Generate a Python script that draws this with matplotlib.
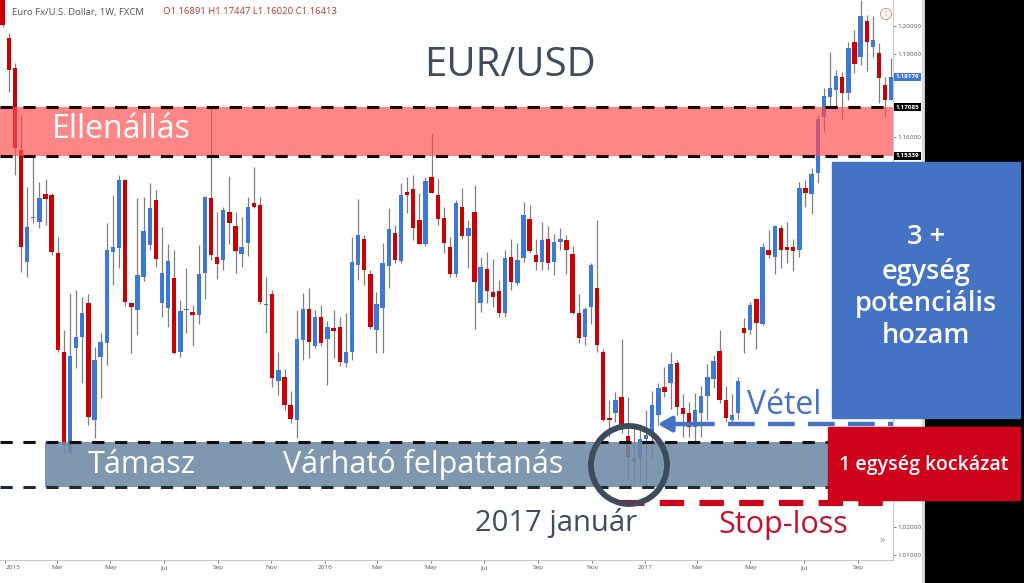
import matplotlib
matplotlib.use("Agg")
import matplotlib.pyplot as plt
import matplotlib.dates as mdates
from matplotlib.patches import Rectangle, Ellipse
import pandas as pd
import numpy as np

plt.rcParams['font.family'] = ['Open Sans', 'DejaVu Sans']

# Heti EUR/USD gyertyák (2014-12-29 -tól)
opens = [1.2195, 1.1957, 1.1849, 1.1555, 1.1152, 1.1310, 1.1296, 1.1397, 1.1393, 1.1185,
         1.0829, 1.0470, 1.0843, 1.0883, 1.1005, 1.0585, 1.0811, 1.0861, 1.1188, 1.1203,
         1.1447, 1.1005, 1.0980, 1.1098, 1.1213, 1.1375, 1.1005, 1.0987, 1.1095, 1.0829,
         1.0978, 1.0973, 1.0962, 1.1113, 1.1382, 1.1170, 1.1159, 1.1332, 1.1282, 1.1181,
         1.1221, 1.1364, 1.1357, 1.0999, 1.1037, 1.0725, 1.0739, 1.0639, 1.0585, 1.0872,
         1.0983, 1.0851, 1.0955, 1.0876, 1.0915, 1.0919, 1.0790, 1.0829, 1.1142, 1.1235,
         1.1109, 1.0908, 1.0987, 1.1138, 1.1256, 1.1156, 1.1404, 1.1415, 1.1303, 1.1217,
         1.1458, 1.1393, 1.1310, 1.1206, 1.1109, 1.1350, 1.1246, 1.1332, 1.1005, 1.1127,
         1.1045, 1.1048, 1.0969, 1.1170, 1.1077, 1.1167, 1.1307, 1.1177, 1.1152, 1.1235,
         1.1152, 1.1224, 1.1231, 1.1181, 1.0969, 1.0883, 1.0991, 1.1059, 1.0829, 1.0592,
         1.0610, 1.0667, 1.0527, 1.0434, 1.0448, 1.0517, 1.0538, 1.0603, 1.0703, 1.0718,
         1.0790, 1.0628, 1.0610, 1.0560, 1.0610, 1.0671, 1.0732, 1.0833, 1.0657, 1.0585,
         1.0610, 1.0915, 1.0908, 1.1019, 1.0930, 1.1195, 1.1170, 1.1274, 1.1206, 1.1206,
         1.1195, 1.1418, 1.1397, 1.1472, 1.1673, 1.1745, 1.1770, 1.1817, 1.1759, 1.1943,
         1.1889, 1.2018, 1.1925, 1.1903, 1.1788, 1.1734]
highs = [1.2220, 1.1975, 1.1867, 1.1680, 1.1422, 1.1530, 1.1440, 1.1450, 1.1400, 1.1242,
         1.0908, 1.1041, 1.1052, 1.1027, 1.1037, 1.0847, 1.0897, 1.1292, 1.1393, 1.1465,
         1.1450, 1.1010, 1.1382, 1.1386, 1.1436, 1.1411, 1.1278, 1.1217, 1.1195, 1.1016,
         1.1131, 1.0998, 1.1213, 1.1390, 1.1712, 1.1332, 1.1350, 1.1461, 1.1332, 1.1314,
         1.1386, 1.1494, 1.1386, 1.1098, 1.1050, 1.0829, 1.0768, 1.0689, 1.0980, 1.1041,
         1.1059, 1.0980, 1.0998, 1.0940, 1.0980, 1.0955, 1.0969, 1.1242, 1.1379, 1.1249,
         1.1124, 1.1045, 1.1221, 1.1346, 1.1285, 1.1436, 1.1458, 1.1465, 1.1400, 1.1458,
         1.1616, 1.1451, 1.1350, 1.1242, 1.1375, 1.1418, 1.1303, 1.1429, 1.1170, 1.1188,
         1.1163, 1.1088, 1.1195, 1.1235, 1.1221, 1.1368, 1.1357, 1.1235, 1.1296, 1.1282,
         1.1253, 1.1274, 1.1249, 1.1210, 1.1037, 1.0990, 1.1149, 1.1303, 1.0840, 1.0657,
         1.0686, 1.0876, 1.0667, 1.0560, 1.0560, 1.0620, 1.0690, 1.0718, 1.0775, 1.0829,
         1.0800, 1.0678, 1.0650, 1.0680, 1.0705, 1.0786, 1.0818, 1.0908, 1.0707, 1.0678,
         1.0739, 1.0951, 1.1010, 1.1023, 1.1220, 1.1267, 1.1285, 1.1285, 1.1296, 1.1235,
         1.1440, 1.1447, 1.1490, 1.1680, 1.1777, 1.1907, 1.1842, 1.1835, 1.1943, 1.1986,
         1.2093, 1.2040, 1.2036, 1.1939, 1.1817, 1.1885]
lows = [1.1995, 1.1763, 1.1465, 1.1116, 1.1098, 1.1292, 1.1274, 1.1285, 1.1177, 1.0830,
        1.0466, 1.0462, 1.0772, 1.0718, 1.0567, 1.0520, 1.0664, 1.0782, 1.1070, 1.1131,
        1.0995, 1.0825, 1.0890, 1.1085, 1.1195, 1.1134, 1.0955, 1.0919, 1.0820, 1.0811,
        1.0897, 1.0851, 1.0930, 1.1019, 1.1159, 1.1091, 1.1124, 1.1217, 1.1113, 1.1134,
        1.1174, 1.1345, 1.1001, 1.0897, 1.0703, 1.0675, 1.0621, 1.0574, 1.0520, 1.0800,
        1.0807, 1.0845, 1.0850, 1.0710, 1.0807, 1.0779, 1.0775, 1.0800, 1.1088, 1.1070,
        1.0912, 1.0825, 1.0825, 1.1059, 1.1149, 1.1150, 1.1328, 1.1231, 1.1217, 1.1210,
        1.1400, 1.1285, 1.1185, 1.1098, 1.1098, 1.1235, 1.1131, 1.0912, 1.0973, 1.1005,
        1.0991, 1.0955, 1.0955, 1.1052, 1.1070, 1.1152, 1.1185, 1.1124, 1.1124, 1.1124,
        1.1106, 1.1195, 1.1109, 1.0965, 1.0861, 1.0854, 1.0930, 1.0829, 1.0581, 1.0524,
        1.0578, 1.0538, 1.0369, 1.0352, 1.0360, 1.0340, 1.0450, 1.0567, 1.0667, 1.0624,
        1.0603, 1.0524, 1.0524, 1.0495, 1.0524, 1.0585, 1.0700, 1.0646, 1.0578, 1.0578,
        1.0589, 1.0825, 1.0895, 1.0840, 1.0925, 1.1165, 1.1109, 1.1131, 1.1150, 1.1120,
        1.1170, 1.1350, 1.1325, 1.1436, 1.1619, 1.1713, 1.1713, 1.1666, 1.1734, 1.1831,
        1.1860, 1.1838, 1.1889, 1.1723, 1.1673, 1.1734]
closes = [1.2005, 1.1842, 1.1562, 1.1206, 1.1278, 1.1314, 1.1382, 1.1379, 1.1188, 1.0836,
          1.0495, 1.0815, 1.0883, 1.0969, 1.0596, 1.0800, 1.0865, 1.1195, 1.1206, 1.1447,
          1.1009, 1.0991, 1.1106, 1.1264, 1.1346, 1.1163, 1.1113, 1.1156, 1.0825, 1.0976,
          1.0982, 1.0962, 1.1109, 1.1386, 1.1177, 1.1145, 1.1339, 1.1292, 1.1192, 1.1206,
          1.1350, 1.1350, 1.1009, 1.1003, 1.0736, 1.0764, 1.0639, 1.0588, 1.0876, 1.0983,
          1.0865, 1.0955, 1.0861, 1.0919, 1.0904, 1.0793, 1.0829, 1.1152, 1.1249, 1.1124,
          1.0919, 1.1001, 1.1149, 1.1271, 1.1159, 1.1393, 1.1393, 1.1274, 1.1217, 1.1443,
          1.1400, 1.1307, 1.1221, 1.1109, 1.1364, 1.1246, 1.1274, 1.1080, 1.1134, 1.1048,
          1.1027, 1.0969, 1.1167, 1.1080, 1.1159, 1.1321, 1.1192, 1.1152, 1.1231, 1.1149,
          1.1224, 1.1235, 1.1195, 1.0969, 1.0879, 1.0983, 1.1142, 1.0854, 1.0585, 1.0585,
          1.0657, 1.0552, 1.0452, 1.0448, 1.0517, 1.0531, 1.0639, 1.0700, 1.0685, 1.0786,
          1.0632, 1.0607, 1.0560, 1.0621, 1.0671, 1.0739, 1.0797, 1.0657, 1.0592, 1.0603,
          1.0725, 1.0897, 1.0998, 1.0933, 1.1206, 1.1177, 1.1282, 1.1195, 1.1195, 1.1192,
          1.1418, 1.1400, 1.1468, 1.1666, 1.1749, 1.1777, 1.1820, 1.1759, 1.1921, 1.1864,
          1.2036, 1.1943, 1.1950, 1.1813, 1.1734, 1.1818]

weeks = pd.date_range('2014-12-29', periods=len(opens), freq='7D')

# Szintek
resistance_top, resistance_bottom = 1.17085, 1.15339
support_top, support_bottom = 1.0506, 1.0344
entry_level = 1.0570
stop_level = 1.0287
last_price = 1.18176

month_ticks = pd.date_range('2015-01-01', '2017-09-01', freq='2MS')
month_labels = [d.strftime('%Y') if d.month == 1 else d.strftime('%b') for d in month_ticks]
price_ticks = [1.01, 1.02, 1.16, 1.19, 1.20]

W, H = 1024, 583
def fx(px):
    return px / W
def fy(py):
    return 1 - py / H

up_col, down_col, wick_col = '#3c78d8', '#cc0000', '#808080'
slate = '#3e4c5e'

fig = plt.figure(figsize=(W / 100, H / 100), dpi=100)
fig.patch.set_facecolor('white')
ax = fig.add_axes([0, fy(560), fx(893), 560 / H])

x = mdates.date2num(weeks)
o = np.array(opens); c = np.array(closes)
colors = np.where(c >= o, up_col, down_col)
ax.vlines(x, lows, highs, color=wick_col, lw=0.9, zorder=2)
body_low = np.minimum(o, c)
body_h = np.maximum(np.abs(c - o), 0.00035)
ax.bar(x, body_h, bottom=body_low, width=5.0, color=colors, zorder=3)

ax.set_xlim(mdates.date2num(pd.Timestamp('2014-12-26')), mdates.date2num(pd.Timestamp('2017-10-11')))
ax.set_ylim(1.00819, 1.2093)

# zónák
ax.axhspan(resistance_bottom, resistance_top, color='#ff4d4d', alpha=0.68, lw=0, zorder=4)
ax.axhspan(support_bottom, support_top, xmin=45 / 893, xmax=1, color='#6f89a5', alpha=0.88, lw=0, zorder=4)

dash_k = dict(ls=(0, (4, 3.5)), lw=2.2, zorder=5)
ax.axhline(resistance_top, color='#1a0000', **dash_k)
ax.axhline(resistance_bottom, color='#1a0000', **dash_k)
ax.axhline(support_top, color='#111111', **dash_k)
ax.axhline(support_bottom, color='#1c2a3a', **dash_k)

ax.hlines(entry_level, 688 / 893, 1, transform=ax.get_yaxis_transform(),
          color='#4472c4', lw=3.2, ls=(0, (6, 3)), zorder=6)
ax.hlines(stop_level, 620 / 893, 1, transform=ax.get_yaxis_transform(),
          color='#d0021b', lw=4.4, ls=(0, (4, 2.5)), zorder=6)
ax.annotate('', xy=(655 / 893, entry_level), xytext=(690 / 893, entry_level),
            xycoords=ax.get_yaxis_transform(), textcoords=ax.get_yaxis_transform(),
            arrowprops=dict(arrowstyle='-|>,head_width=0.45,head_length=0.8',
                            color='#4472c4', lw=3.2), zorder=6)

# tengelyek
ax.yaxis.tick_right()
ax.set_yticks(price_ticks)
ax.set_yticklabels([f'{p:.5f}' for p in price_ticks])
ax.set_xticks(mdates.date2num(month_ticks))
ax.set_xticklabels(month_labels)
ax.tick_params(axis='both', labelsize=4.6, colors='#555555', length=2, width=0.5, pad=1.5)
ax.get_xticklabels()[0].set_ha('left')
for s in ['top', 'left']:
    ax.spines[s].set_visible(False)
for s in ['right', 'bottom']:
    ax.spines[s].set_color('#c8c8c8')
    ax.spines[s].set_linewidth(0.8)

box_kw = dict(transform=ax.get_yaxis_transform(), fontsize=4.6, color='white',
              va='center', ha='left', fontweight='bold', zorder=8)
ax.text(1.003, last_price, f'{last_price:.5f}', bbox=dict(fc='#3c78d8', ec='none', pad=1.2), **box_kw)
ax.text(1.003, resistance_top, f'{resistance_top:.5f}', bbox=dict(fc='black', ec='none', pad=1.2), **box_kw)
ax.text(1.003, resistance_bottom, f'{resistance_bottom:.5f}', bbox=dict(fc='black', ec='none', pad=1.2), **box_kw)

# jobb oldali fekete sáv
fig.add_artist(Rectangle((fx(925), 0), 1 - fx(925), 1, transform=fig.transFigure,
                         color='black', zorder=1))
fig.add_artist(Rectangle((fx(922), 0), fx(1), 1, transform=fig.transFigure,
                         color='#d8d8d8', zorder=1))

# fejléc
fig.text(fx(12), fy(12), 'Euro Fx/U.S. Dollar, 1W, FXCM', fontsize=6.8, color='#555555', va='center')
fig.text(fx(163), fy(12), 'O1.16891 H1.17447 L1.16020 C1.16413', fontsize=6.8, color='#c0392b', va='center')
fig.text(fx(886), fy(14), '!', fontsize=6, color='#f08050', ha='center', va='center',
         bbox=dict(boxstyle='circle,pad=0.25', fc='none', ec='#f08050', lw=0.6))
fig.text(fx(882), fy(540), '»', fontsize=8, color='#8aa0c0', ha='center', va='center')

# feliratok
fig.text(fx(510), fy(66), 'EUR/USD', fontsize=29, color=slate, ha='center', va='center')
fig.text(fx(52), fy(130), 'Ellenállás', fontsize=23, color='white', ha='left', va='center')
fig.text(fx(88), fy(465), 'Támasz', fontsize=22, color='white', ha='left', va='center')
fig.text(fx(283), fy(465), 'Várható felpattanás', fontsize=22, color='white', ha='left', va='center')
fig.text(fx(556), fy(523), '2017 január', fontsize=21, color=slate, ha='center', va='center')
fig.text(fx(783), fy(525), 'Stop-loss', fontsize=22, color='#c8102e', ha='center', va='center')
fig.text(fx(784), fy(406), 'Vétel', fontsize=23, color='#4472c4', ha='center', va='center')

fig.add_artist(Ellipse((fx(629), fy(465)), fx(76), 78 / H, transform=fig.transFigure,
                       fill=False, ec='#3d4b5c', lw=4.2, zorder=7))

fig.add_artist(Rectangle((fx(832), fy(418)), fx(1020 - 832), (418 - 162) / H,
                         transform=fig.transFigure, color='#4472c4', zorder=8))
for txt, py in zip(['3 +', 'egység', 'potenciális', 'hozam'], [237, 272, 304, 336]):
    fig.text(fx(926), fy(py), txt, fontsize=19.5, color='white', ha='center', va='center',
             fontweight='semibold', zorder=9)

fig.add_artist(Rectangle((fx(828), fy(500)), fx(1020 - 828), (500 - 427) / H,
                         transform=fig.transFigure, color='#d0021b', zorder=8))
fig.text(fx(924), fy(465), '1 egység kockázat', fontsize=14, color='white', ha='center',
         va='center', fontweight='semibold', zorder=9)

fig.savefig('out.png', dpi=100)
